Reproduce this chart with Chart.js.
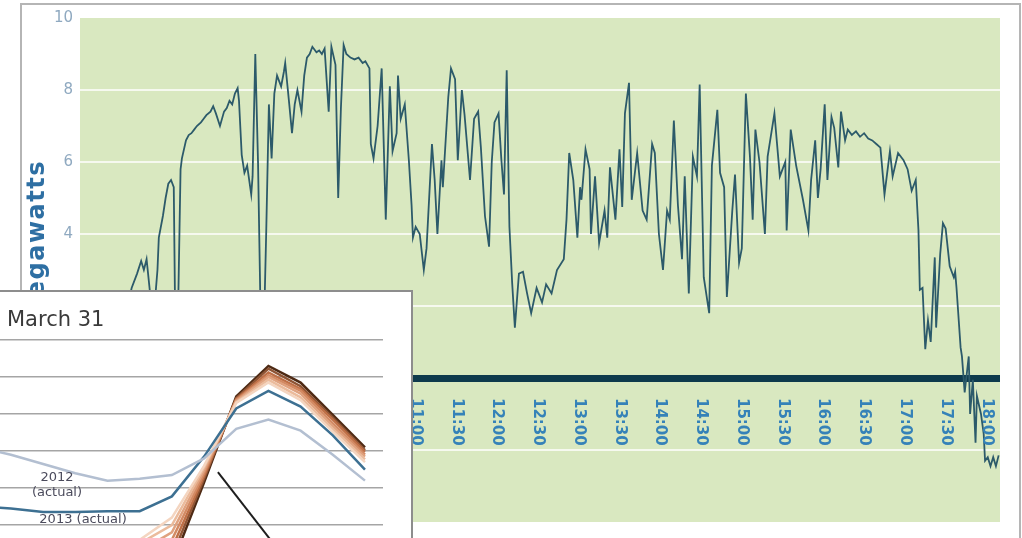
<!DOCTYPE html>
<html lang="en">
<head>
<meta charset="UTF-8">
<title>Megawatts through the day, with March 31 inset</title>
<style>
  body { margin: 0; background: #fff; }
  #main { position: absolute; left: 0; top: 0; width: 1022px; height: 538px; }
  #inset {
    position: absolute; left: 0; top: 290px; width: 413px; height: 248px;
    background: #fff; box-sizing: border-box;
    border-top: 2px solid #8d8d8d; border-right: 2px solid #8d8d8d;
  }
</style>
</head>
<body>
<div id="main"><canvas id="mwChart"></canvas></div>
<div id="inset"><canvas id="duckChart"></canvas></div>

<script src="https://cdn.jsdelivr.net/npm/chart.js"></script>
<script>
// ---- main chart data: minutes after midnight, megawatts ----
const minutes = [
  443, 448, 451, 455, 458, 460, 462, 465, 467, 470,
  471, 474, 476, 478, 480, 482, 483, 485, 487, 488,
  491, 493, 495, 497, 499, 502, 504, 506, 509, 511,
  513, 516, 519, 521, 523, 525, 527, 529, 530, 532,
  534, 536, 539, 540, 542, 544, 546, 548, 550, 552,
  554, 556, 558, 561, 563, 564, 567, 569, 571, 573,
  576, 578, 580, 582, 584, 587, 589, 591, 593, 596,
  598, 601, 603, 605, 607, 609, 612, 615, 618, 621,
  623, 626, 627, 629, 632, 635, 638, 641, 643, 646,
  647, 649, 652, 655, 657, 658, 660, 663, 666, 668,
  672, 674, 676, 679, 680, 684, 686, 689, 691, 694,
  696, 700, 703, 706, 708, 711, 714, 716, 718, 721,
  723, 725, 727, 729, 731, 733, 736, 739, 742, 745,
  749, 753, 756, 760, 764, 769, 771, 773, 776, 779,
  781, 782, 785, 788, 789, 792, 795, 799, 801, 803,
  807, 810, 812, 814, 817, 819, 823, 827, 830, 834,
  836, 839, 842, 845, 847, 850, 853, 856, 858, 861,
  864, 867, 869, 872, 876, 878, 882, 884, 887, 889,
  893, 895, 898, 900, 903, 906, 908, 910, 913, 917,
  919, 924, 928, 932, 933, 936, 940, 945, 949, 951,
  954, 956, 958, 961, 963, 966, 968, 971, 973, 976,
  978, 981, 984, 987, 990, 993, 996, 999, 1002, 1005,
  1009, 1011, 1015, 1019, 1022, 1025, 1028, 1030, 1031, 1033,
  1035, 1037, 1039, 1042, 1043, 1046, 1048, 1050, 1053, 1056,
  1057, 1058, 1061, 1062, 1064, 1067, 1068, 1070, 1072, 1073,
  1076, 1078, 1079, 1081, 1083, 1085, 1087, 1089
];
const megawatts = [
  1.2, 2.0, 2.5, 2.9, 3.25, 3.0, 3.3, 2.2, 1.6, 3.0,
  3.9, 4.5, 5.0, 5.4, 5.5, 5.3, 1.8, 1.5, 5.8, 6.1,
  6.6, 6.75, 6.8, 6.9, 7.0, 7.1, 7.2, 7.3, 7.4, 7.55,
  7.35, 7.0, 7.4, 7.5, 7.7, 7.6, 7.9, 8.05, 7.7, 6.2,
  5.7, 5.9, 5.1, 5.6, 9.0, 6.0, 1.5, 0.8, 4.0, 7.6,
  6.1, 7.9, 8.4, 8.1, 8.5, 8.75, 7.6, 6.8, 7.6, 8.0,
  7.4, 8.4, 8.9, 9.0, 9.2, 9.05, 9.1, 9.0, 9.15, 7.4,
  9.2, 8.7, 5.0, 7.5, 9.25, 9.0, 8.9, 8.85, 8.9, 8.75,
  8.8, 8.6, 6.5, 6.1, 7.0, 8.6, 4.4, 8.1, 6.3, 6.8,
  8.4, 7.2, 7.6, 6.05, 4.8, 3.9, 4.2, 4.0, 3.0, 3.6,
  6.5, 5.5, 4.0, 6.05, 5.3, 7.8, 8.6, 8.3, 6.05, 8.0,
  7.3, 5.5, 7.2, 7.4, 6.4, 4.5, 3.65, 6.0, 7.1, 7.35,
  6.1, 5.1, 8.55, 4.2, 2.65, 1.4, 2.9, 2.95, 2.35, 1.8,
  2.5, 2.1, 2.6, 2.35, 3.0, 3.3, 4.4, 6.25, 5.5, 3.9,
  5.3, 4.95, 6.35, 5.8, 4.0, 5.6, 3.75, 4.65, 3.9, 5.85,
  4.4, 6.35, 4.75, 7.35, 8.2, 4.95, 6.25, 4.65, 4.4, 6.5,
  6.25, 4.0, 3.0, 4.65, 4.4, 7.15, 4.8, 3.3, 5.6, 2.35,
  6.15, 5.6, 8.15, 2.8, 1.8, 5.9, 7.45, 5.7, 5.3, 2.25,
  4.65, 5.65, 3.2, 3.6, 7.9, 6.15, 4.4, 6.9, 6.0, 4.0,
  6.15, 7.35, 5.6, 6.0, 4.1, 6.9, 5.9, 4.95, 4.1, 5.5,
  6.6, 5.0, 5.8, 7.6, 5.5, 7.25, 6.95, 5.85, 7.4, 6.6,
  6.9, 6.75, 6.85, 6.7, 6.8, 6.65, 6.6, 6.5, 6.4, 5.1,
  6.3, 5.6, 6.25, 6.05, 5.8, 5.2, 5.5, 4.1, 2.45, 2.5,
  0.8, 1.6, 1.0, 3.35, 1.4, 3.45, 4.3, 4.15, 3.1, 2.8,
  2.95, 2.5, 0.85, 0.6, -0.4, 0.6, -1.0, -0.05, -1.8, -0.5,
  -1.0, -1.55, -2.3, -2.2, -2.45, -2.2, -2.45, -2.15
];
const timeLabels = ['7:00', '7:30', '8:00', '8:30', '9:00', '9:30', '10:00', '10:30',
  '11:00', '11:30', '12:00', '12:30', '13:00', '13:30', '14:00', '14:30', '15:00',
  '15:30', '16:00', '16:30', '17:00', '17:30', '18:00'];
const yAxisTitle = 'Megawatts';

// ---- inset (March 31) data: hour of day, MW ----
const insetTitle = 'March 31';
const insetGridMW = [18000, 20000, 22000, 24000, 26000, 28000];
const actualHours = [11, 12, 13, 14, 15, 16, 17, 18, 19, 20, 21, 22, 23];
const actual2012 = [22200, 21800, 21300, 20800, 20400, 20500, 20700, 21600, 23200, 23700, 23100, 21800, 20400];
const actual2013 = [19000, 18900, 18700, 18700, 18750, 18750, 19550, 21700, 24300, 25250, 24400, 22850, 21000];
const forecastHours = [15, 16, 17, 18, 19, 20, 21, 22, 23];
const forecastYears = ['2014', '2015', '2016', '2017', '2018', '2019', '2020'];
const forecastMW = [
  [16000, 17200, 18400, 21200, 24600, 25700, 24750, 23050, 21400],
  [15500, 17000, 18000, 21100, 24650, 25850, 24900, 23200, 21550],
  [15000, 16600, 17600, 20950, 24700, 26000, 25100, 23350, 21700],
  [14500, 16150, 17200, 20800, 24750, 26100, 25250, 23500, 21800],
  [14000, 15700, 16750, 20650, 24800, 26250, 25350, 23700, 21950],
  [13600, 15300, 16300, 20500, 24850, 26450, 25500, 23800, 22050],
  [13200, 14850, 15850, 20300, 24950, 26600, 25700, 23950, 22200]
];
const forecastColors = ['#f4d5c0', '#ebbb9c', '#e0a27f', '#d38a63', '#bf7047', '#8e5434', '#4e2a14'];
const pointerHours = [18.43, 20.2];
const pointerMW = [20865, 16900];
const noteTexts = ['2012', '(actual)', '2013 (actual)'];
const noteHours = [13.43, 13.43, 14.24];
const noteMW = [20540, 19730, 18270];

Chart.defaults.font.family = "'DejaVu Sans', sans-serif";

function toMinutes(label) {
  const parts = label.split(':');
  return Number(parts[0]) * 60 + Number(parts[1]);
}

// background, frame, rotated time labels and the axis title
const mainDecor = {
  id: 'mainDecor',
  beforeDraw(chart) {
    const { ctx, chartArea: a } = chart;
    ctx.save();
    ctx.fillStyle = '#d9e8c0';
    ctx.fillRect(a.left, a.top, a.right - a.left, a.bottom - a.top);
    ctx.strokeStyle = '#b5b5b5';
    ctx.lineWidth = 2;
    ctx.beginPath();
    ctx.moveTo(21, 540);
    ctx.lineTo(21, 4);
    ctx.lineTo(1020, 4);
    ctx.lineTo(1020, 540);
    ctx.stroke();
    ctx.restore();
  },
  afterDraw(chart) {
    const { ctx, scales: { x, y } } = chart;
    const top = y.getPixelForValue(0) + 20;
    ctx.save();
    ctx.fillStyle = '#3582b8';
    ctx.font = "bold 15px 'DejaVu Sans'";
    ctx.textAlign = 'left';
    ctx.textBaseline = 'middle';
    timeLabels.forEach(label => {
      ctx.save();
      ctx.translate(x.getPixelForValue(toMinutes(label)), top);
      ctx.rotate(Math.PI / 2);
      ctx.fillText(label, 0, 0);
      ctx.restore();
    });
    // y axis title, reading upwards
    ctx.fillStyle = '#2e6fa3';
    ctx.font = "bold 24px 'DejaVu Sans'";
    ctx.letterSpacing = '1.5px';
    ctx.textAlign = 'right';
    ctx.translate(38, 160);
    ctx.rotate(-Math.PI / 2);
    ctx.fillText(yAxisTitle, 0, 0);
    ctx.restore();
  }
};

new Chart(document.getElementById('mwChart'), {
  type: 'line',
  data: {
    datasets: [{
      data: minutes.map((m, i) => ({ x: m, y: megawatts[i] })),
      borderColor: '#2c5a6a',
      borderWidth: 1.8,
      pointRadius: 0,
      tension: 0
    }]
  },
  options: {
    responsive: true,
    maintainAspectRatio: false,
    animation: false,
    layout: { padding: { left: 20, top: 18, right: 22, bottom: 16 } },
    plugins: { legend: { display: false }, tooltip: { enabled: false } },
    scales: {
      x: { type: 'linear', min: 413, max: 1090, display: false },
      y: {
        min: -4,
        max: 10,
        afterFit(scale) { scale.width = 60; },
        border: { display: false },
        grid: {
          drawTicks: false,
          color: c => c.tick.value === 0 ? '#0e3a4c'
            : (c.tick.value === 10 || c.tick.value === -4) ? 'rgba(0,0,0,0)' : 'rgba(255,255,255,0.75)',
          lineWidth: c => c.tick.value === 0 ? 7 : 2
        },
        ticks: { stepSize: 2, padding: 7, color: '#8fa9c0', font: { size: 15 } }
      }
    }
  },
  plugins: [mainDecor]
});

// ---- inset chart ----
const insetDecor = {
  id: 'insetDecor',
  afterDatasetsDraw(chart) {
    const { ctx, scales: { x, y } } = chart;
    ctx.save();
    ctx.fillStyle = '#3a3a3a';
    ctx.font = "21px 'DejaVu Sans'";
    ctx.textAlign = 'left';
    ctx.textBaseline = 'alphabetic';
    ctx.fillText(insetTitle, 7, 34);
    ctx.fillStyle = '#4b4b5c';
    ctx.font = "13px 'DejaVu Sans'";
    ctx.textAlign = 'center';
    ctx.textBaseline = 'middle';
    noteTexts.forEach((t, i) => {
      ctx.fillText(t, x.getPixelForValue(noteHours[i]), y.getPixelForValue(noteMW[i]));
    });
    ctx.restore();
  }
};

const insetSets = [
  { data: actualHours.map((h, i) => ({ x: h, y: actual2012[i] })), borderColor: '#b3bfd1' },
  { data: actualHours.map((h, i) => ({ x: h, y: actual2013[i] })), borderColor: '#3d7092' }
];
forecastYears.forEach((yr, k) => {
  insetSets.push({
    label: yr,
    data: forecastHours.map((h, i) => ({ x: h, y: forecastMW[k][i] })),
    borderColor: forecastColors[k]
  });
});
insetSets.push({
  data: pointerHours.map((h, i) => ({ x: h, y: pointerMW[i] })),
  borderColor: '#1e1e1e',
  borderWidth: 2
});

new Chart(document.getElementById('duckChart'), {
  type: 'line',
  data: { datasets: insetSets },
  options: {
    responsive: true,
    maintainAspectRatio: false,
    animation: false,
    layout: { padding: { left: 0, top: 48, right: 28, bottom: 0 } },
    elements: { line: { borderWidth: 2.5, tension: 0 }, point: { radius: 0 } },
    plugins: { legend: { display: false }, tooltip: { enabled: false } },
    scales: {
      x: { type: 'linear', min: 11.66, max: 23.56, display: false },
      y: {
        min: 17300,
        max: 28000,
        afterFit(scale) { scale.width = 0; },
        afterBuildTicks(scale) { scale.ticks = insetGridMW.map(v => ({ value: v })); },
        border: { display: false },
        ticks: { display: false },
        grid: { drawTicks: false, lineWidth: 1.5, color: '#a5a5a5' }
      }
    }
  },
  plugins: [insetDecor]
});
</script>
</body>
</html>
